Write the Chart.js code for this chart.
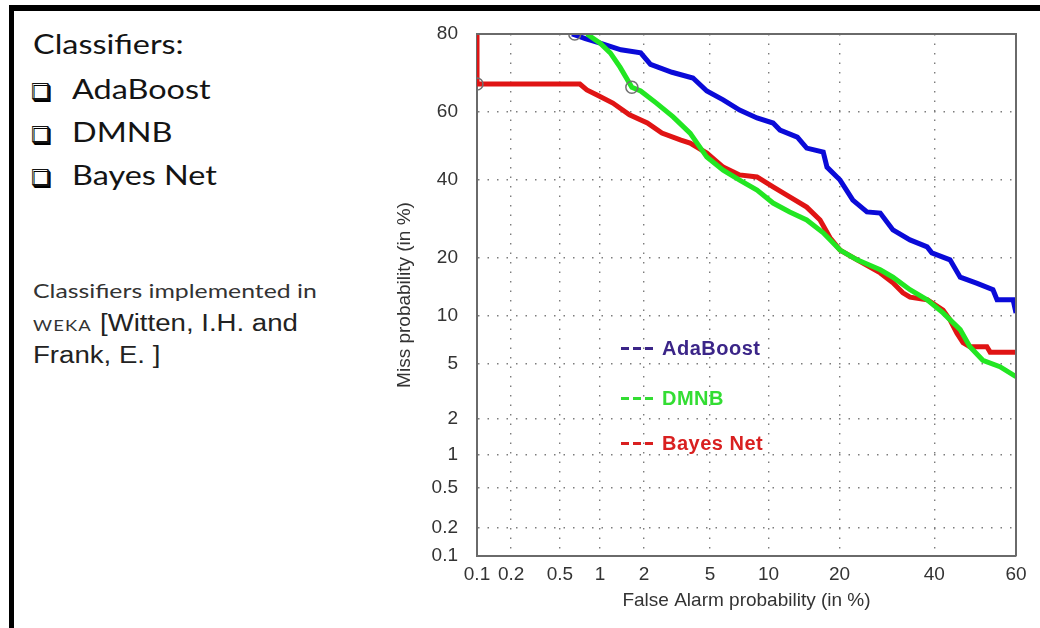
<!DOCTYPE html>
<html>
<head>
<meta charset="utf-8">
<script src="https://cdn.jsdelivr.net/npm/chart.js@4.4.1/dist/chart.umd.min.js"></script>
<style>
  html, body { margin: 0; padding: 0; background: #fff; }
  body { width: 1040px; height: 628px; position: relative; overflow: hidden; }
  .frame-top { position: absolute; left: 9px; top: 5px; width: 1031px; height: 6px; background: #000; }
  .frame-left { position: absolute; left: 9px; top: 5px; width: 5px; height: 623px; background: #000; }
  .txt { position: absolute; white-space: nowrap; color: #141414; transform-origin: left center; }
  .big { font-family: Lato, sans-serif; font-size: 27px; line-height: 32px; transform: scaleX(1.2); }
  .bullet { font-family: "DejaVu Sans", sans-serif; font-size: 22px; line-height: 32px; text-shadow: 1.5px 1.5px 0 #000; }
  .note { font-family: Lato, sans-serif; font-size: 20px; line-height: 24px; color: #333; }
  .stretch { display: inline-block; transform: scaleX(1.24); transform-origin: left center; }
  .arial { font-family: "Liberation Sans", Arial, sans-serif; font-size: 23px; color: #222; display: inline-block; transform: scaleX(1.2); transform-origin: left center; }
  .caps { font-family: Lato, sans-serif; font-size: 16px; letter-spacing: 1px; display: inline-block; transform: scaleX(1.15); transform-origin: left center; }
  #chartBox { position: absolute; left: 380px; top: 0; width: 660px; height: 628px; }
  .leg-dash { position: absolute; width: 34px; height: 3px; }
  .leg-text { position: absolute; font-family: "Liberation Sans", Arial, sans-serif; font-weight: bold; font-size: 20px; line-height: 22px; letter-spacing: 0.5px; white-space: nowrap; }
</style>
</head>
<body>
<div class="frame-top"></div>
<div class="frame-left"></div>

<div class="txt big" style="left:33px; top:28px;">Classifiers:</div>
<div class="txt bullet" style="left:31px; top:76px;">❑</div>
<div class="txt big" style="left:72px; top:73px;">AdaBoost</div>
<div class="txt bullet" style="left:31px; top:119px;">❑</div>
<div class="txt big" style="left:72px; top:116px;">DMNB</div>
<div class="txt bullet" style="left:31px; top:162px;">❑</div>
<div class="txt big" style="left:72px; top:159px;">Bayes Net</div>

<div class="txt note" style="left:33px; top:278px;"><span class="stretch">Classifiers implemented in</span></div>
<div class="txt note" style="left:33px; top:311px;"><span class="caps">WEKA</span>&nbsp;&nbsp;&nbsp;<span class="arial">[Witten, I.H. and</span></div>
<div class="txt note" style="left:33px; top:343px;"><span class="arial">Frank, E. ]</span></div>

<div id="chartBox"><canvas id="detChart"></canvas></div>
<div id="legendBox"></div>

<script>
// DET curves: false alarm (%) vs miss probability (%)
const xTicks = [0.1, 0.2, 0.5, 1, 2, 5, 10, 20, 40, 60];
const yTicks = [0.1, 0.2, 0.5, 1, 2, 5, 10, 20, 40, 60, 80];

const seriesNames = ["AdaBoost", "DMNB", "Bayes Net"];

const adaBoostFA = [0.62, 0.78, 1.0, 1.4, 1.9, 2.2, 3.0, 4.0, 4.8, 5.9, 7.2, 8.8, 10.5, 11.3, 13.5, 14.8, 17.3, 17.9, 20.1, 22.4, 25.1, 27.8, 30.5, 34.3, 38.3, 39.4, 43.8, 46.3, 50.5, 54.4, 55.4, 59.3, 60];
const adaBoostMiss = [80, 79, 78, 76.5, 75.8, 73, 71, 69.5, 66, 63.5, 60.6, 58.3, 56.8, 54.7, 52.6, 49.3, 48.1, 43.6, 39.8, 34.1, 30.9, 30.6, 26.3, 23.9, 22.3, 21, 19.5, 16.1, 15, 13.9, 12.3, 12.3, 10.4];

const dmnbFA = [0.8, 1.0, 1.18, 1.38, 1.66, 1.9, 2.4, 3.05, 3.85, 4.8, 5.9, 7.2, 8.8, 10.5, 12.5, 14.8, 17.3, 20.1, 23.2, 27.8, 30.5, 34.3, 38.3, 42.1, 46.3, 48.7, 51.9, 56.1, 60];
const dmnbMiss = [80, 78, 75.8, 72.3, 67, 66, 62.6, 58.6, 53.8, 46.6, 42.7, 39.8, 36.9, 33.3, 30.9, 28.8, 25.6, 21.6, 19.5, 17.5, 16.1, 13.9, 12.3, 10.4, 8.3, 6.5, 5.3, 4.8, 4.1];

const bayesNetFA = [0.1, 0.1, 0.71, 0.8, 0.95, 1.23, 1.6, 2.1, 2.6, 3.4, 3.85, 4.8, 5.9, 7.2, 8.8, 10.5, 12.5, 14.8, 16.8, 18.4, 20.1, 23.2, 27.8, 30.5, 32.7, 34.3, 38.3, 42.1, 43.8, 45.5, 47, 48.7, 52.9, 53.7, 60];
const bayesNetMiss = [80, 67.9, 67.9, 66.3, 64.9, 62.6, 59.2, 56.8, 53.8, 51.7, 50.8, 47.8, 43.6, 41.3, 40.7, 37.8, 35, 32.2, 28.8, 24.4, 21.6, 19.5, 16.9, 15.1, 13.4, 12.7, 12.3, 10.8, 9.5, 7.9, 6.9, 6.5, 6.5, 6.0, 6.0];

// operating-point circles
const markerFA = [0.65, 1.66, 0.1];
const markerMiss = [80, 67, 67.9];

const lineColors = ["#0a0ad8", "#22e622", "#e01414"];
const legendColors = ["#3b2588", "#33dd33", "#d92020"];

function probit(p) {
  const a = [-39.69683028665376, 220.9460984245205, -275.9285104469687, 138.357751867269, -30.66479806614716, 2.506628277459239];
  const b = [-54.47609879822406, 161.5858368580409, -155.6989798598866, 66.80131188771972, -13.28068155288572];
  const c = [-0.007784894002430293, -0.3223964580411365, -2.400758277161838, -2.549732539343734, 4.374664141464968, 2.938163982698783];
  const d = [0.007784695709041462, 0.3224671290700398, 2.445134137142996, 3.754408661907416];
  const pl = 0.02425;
  if (p < pl) {
    const q = Math.sqrt(-2 * Math.log(p));
    return (((((c[0] * q + c[1]) * q + c[2]) * q + c[3]) * q + c[4]) * q + c[5]) / ((((d[0] * q + d[1]) * q + d[2]) * q + d[3]) * q + 1);
  }
  if (p > 1 - pl) {
    const q = Math.sqrt(-2 * Math.log(1 - p));
    return -(((((c[0] * q + c[1]) * q + c[2]) * q + c[3]) * q + c[4]) * q + c[5]) / ((((d[0] * q + d[1]) * q + d[2]) * q + d[3]) * q + 1);
  }
  const q = p - 0.5, r = q * q;
  return (((((a[0] * r + a[1]) * r + a[2]) * r + a[3]) * r + a[4]) * r + a[5]) * q / (((((b[0] * r + b[1]) * r + b[2]) * r + b[3]) * r + b[4]) * r + 1);
}

function normCdf(z) {
  // bisection on probit, only used for pixel -> value
  let lo = 1e-9, hi = 1 - 1e-9;
  for (let i = 0; i < 60; i++) {
    const mid = (lo + hi) / 2;
    if (probit(mid) < z) lo = mid; else hi = mid;
  }
  return (lo + hi) / 2;
}

// normal-deviate (probit) axis, values given in percent
class ProbitScale extends Chart.Scale {
  determineDataLimits() {
    this.min = this.options.min;
    this.max = this.options.max;
  }
  buildTicks() {
    return this.options.tickValues.map(value => ({ value }));
  }
  getLabelForValue(value) {
    return String(value);
  }
  configure() {
    super.configure();
    this._lo = probit(this.min / 100);
    this._span = probit(this.max / 100) - this._lo;
  }
  getPixelForValue(value) {
    if (value === null || value === undefined || isNaN(value)) return NaN;
    return this.getPixelForDecimal((probit(value / 100) - this._lo) / this._span);
  }
  getValueForPixel(pixel) {
    return normCdf(this._lo + this.getDecimalForPixel(pixel) * this._span) * 100;
  }
}
ProbitScale.id = "probit";
ProbitScale.defaults = {};
Chart.register(ProbitScale);

const toPoints = (xs, ys) => xs.map((x, i) => ({ x: x, y: ys[i] }));

const seriesData = [
  toPoints(adaBoostFA, adaBoostMiss),
  toPoints(dmnbFA, dmnbMiss),
  toPoints(bayesNetFA, bayesNetMiss),
];
const drawOrder = [2, 1, 3];

const datasets = seriesNames.map((name, i) => ({
  label: name,
  data: seriesData[i],
  showLine: true,
  borderColor: lineColors[i],
  backgroundColor: lineColors[i],
  borderWidth: 5,
  pointRadius: 0,
  order: drawOrder[i],
}));
datasets.push({
  label: "points",
  data: toPoints(markerFA, markerMiss),
  showLine: false,
  pointRadius: 6,
  pointBorderWidth: 1.5,
  pointBorderColor: "#707070",
  pointBackgroundColor: "rgba(0,0,0,0)",
  order: 0,
});

// closes the plot box on the top and right sides
const boxFrame = {
  id: "boxFrame",
  afterDatasetsDraw(chart) {
    const { ctx, chartArea: a } = chart;
    ctx.save();
    ctx.strokeStyle = "#6a6a6a";
    ctx.lineWidth = 2;
    ctx.beginPath();
    ctx.moveTo(a.left, a.top);
    ctx.lineTo(a.right, a.top);
    ctx.lineTo(a.right, a.bottom);
    ctx.stroke();
    ctx.restore();
  },
};

const tickFont = { family: "'Liberation Sans', Arial, sans-serif", size: 19 };
const titleFont = { family: "'Liberation Sans', Arial, sans-serif", size: 19 };

new Chart(document.getElementById("detChart"), {
  type: "scatter",
  data: { datasets: datasets },
  plugins: [boxFrame],
  options: {
    responsive: true,
    maintainAspectRatio: false,
    animation: false,
    events: [],
    layout: { padding: { left: 9, top: 34, right: 24, bottom: 12 } },
    plugins: {
      legend: { display: false },
      tooltip: { enabled: false },
    },
    scales: {
      x: {
        type: "probit",
        min: 0.1,
        max: 60,
        tickValues: xTicks,
        afterFit: (scale) => { scale.height = 60; },
        grid: { color: "#7c7c7c", lineWidth: 1.4, drawTicks: false },
        border: { color: "#6a6a6a", width: 2, dash: [1.5, 8] },
        ticks: { font: tickFont, color: "#333", padding: 7, autoSkip: false, maxRotation: 0 },
        title: { display: true, text: "False Alarm probability (in %)", font: titleFont, color: "#333" },
      },
      y: {
        type: "probit",
        min: 0.1,
        max: 80,
        tickValues: yTicks,
        afterFit: (scale) => { scale.width = 88; },
        grid: { color: "#7c7c7c", lineWidth: 1.4, drawTicks: false },
        border: { color: "#6a6a6a", width: 2, dash: [1.5, 8] },
        ticks: { font: tickFont, color: "#333", padding: 19, autoSkip: false },
        title: { display: true, text: "Miss probability (in %)", font: titleFont, color: "#333" },
      },
    },
  },
});

// legend inside the plot, coloured labels with short dashed keys
const legendRows = [348, 398, 443];
const legendBox = document.getElementById("legendBox");
seriesNames.forEach((name, i) => {
  const dash = document.createElement("div");
  dash.className = "leg-dash";
  dash.style.left = "621px";
  dash.style.top = (legendRows[i] - 1) + "px";
  dash.style.background = "repeating-linear-gradient(to right, " + legendColors[i] + " 0 8px, transparent 8px 12px)";
  legendBox.appendChild(dash);

  const label = document.createElement("div");
  label.className = "leg-text";
  label.textContent = name;
  label.style.left = "662px";
  label.style.top = (legendRows[i] - 11) + "px";
  label.style.color = legendColors[i];
  legendBox.appendChild(label);
});
</script>
</body>
</html>
